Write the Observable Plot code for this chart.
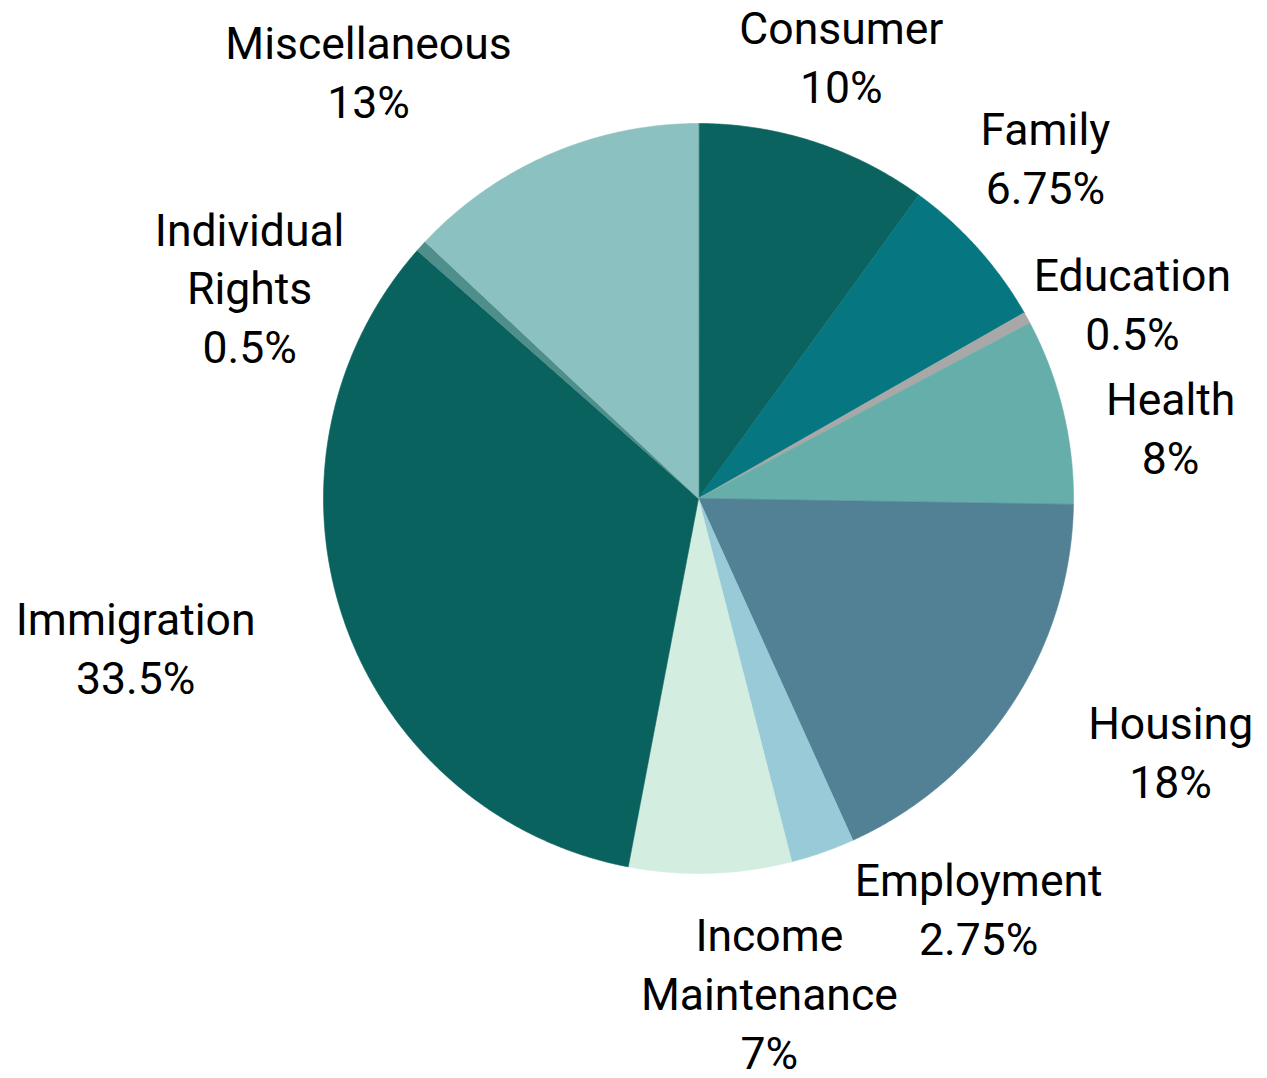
<!DOCTYPE html>
<html>
<head>
<meta charset="utf-8">
<script src="https://cdn.jsdelivr.net/npm/d3@7"></script>
<script src="https://cdn.jsdelivr.net/npm/@observablehq/plot@0.6"></script>
<style>
  html, body { margin: 0; padding: 0; background: #fff; }
  #chart svg { display: block; }
</style>
</head>
<body>
<div id="chart"></div>
<script>
// Data (clockwise from 12 o'clock)
const categories = ["Consumer", "Family", "Education", "Health", "Housing", "Employment", "Income\nMaintenance", "Immigration", "Individual\nRights", "Miscellaneous"];
const values = [10, 6.75, 0.5, 8, 18, 2.75, 7, 33.5, 0.5, 13];
const valueLabels = ["10%", "6.75%", "0.5%", "8%", "18%", "2.75%", "7%", "33.5%", "0.5%", "13%"];
const colors = ["#0b6360", "#067680", "#a8a8a8", "#66aeaa", "#528094", "#98cbd7", "#d3ede0", "#0a625f", "#4e8e8b", "#8bc1c0"];
// Label anchor positions, in units of the pie radius (center = 0,0)
const labelX = [0.381, 0.925, 1.157, 1.259, 1.259, 0.747, 0.189, -1.501, -1.197, -0.880];
const labelY = [1.184, 0.914, 0.525, 0.194, -0.670, -1.088, -1.314, -0.392, 0.568, 1.144];

const W = 1267, H = 1078, CX = 698, CY = 498, R = 375;

const total = d3.sum(values);
let acc = 0;
const slices = categories.map((c, i) => {
  const a0 = acc / total * 2 * Math.PI;
  acc += values[i];
  const a1 = acc / total * 2 * Math.PI;
  const pts = [{x: 0, y: 0}];
  const n = Math.max(2, Math.ceil((a1 - a0) / 0.005));
  for (let k = 0; k <= n; k++) {
    const a = a0 + (a1 - a0) * k / n;
    pts.push({x: Math.sin(a), y: Math.cos(a)});
  }
  return {name: c, color: colors[i], pts};
});

const labels = categories.map((c, i) => ({text: c + "\n" + valueLabels[i], x: labelX[i], y: labelY[i]}));

const chart = Plot.plot({
  width: W,
  height: H,
  margin: 0,
  x: {domain: [-CX / R, (W - CX) / R], range: [0, W], axis: null},
  y: {domain: [-(H - CY) / R, CY / R], range: [H, 0], axis: null},
  style: {background: "#fff"},
  marks: [
    ...slices.map(s => Plot.line(s.pts, {x: "x", y: "y", fill: s.color, stroke: s.color, strokeWidth: 0.6, curve: "linear-closed"})),
    Plot.text(labels, {x: "x", y: "y", text: "text", fontSize: 44.5, lineHeight: 1.32, fill: "#000", fontFamily: "Roboto", textAnchor: "middle", lineAnchor: "middle"})
  ]
});
document.getElementById("chart").appendChild(chart);
</script>
</body>
</html>
